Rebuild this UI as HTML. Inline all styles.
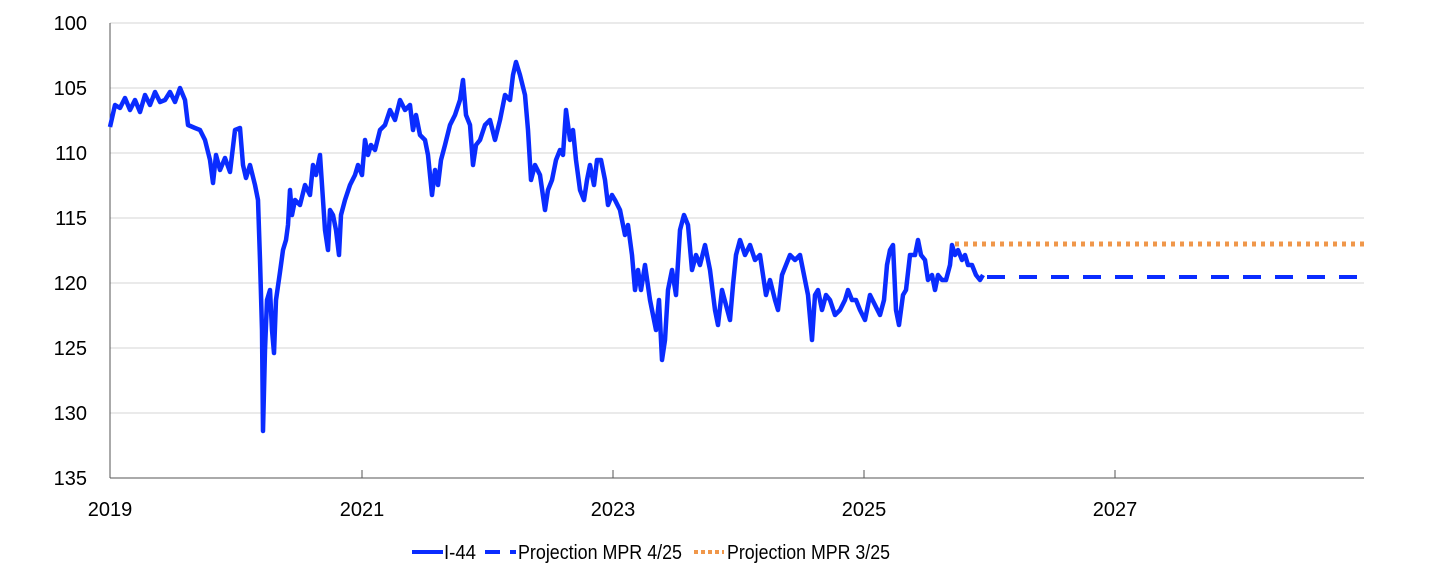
<!DOCTYPE html><html><head><style>body{margin:0;background:#fff}svg{display:block;font-family:"Liberation Sans",sans-serif}</style></head><body>
<svg width="1445" height="575" viewBox="0 0 1445 575">
<g stroke="#d4d4d4" stroke-width="1">
<line x1="110" x2="1364" y1="23" y2="23"/><line x1="110" x2="1364" y1="88" y2="88"/><line x1="110" x2="1364" y1="153" y2="153"/><line x1="110" x2="1364" y1="218" y2="218"/><line x1="110" x2="1364" y1="283" y2="283"/><line x1="110" x2="1364" y1="348" y2="348"/><line x1="110" x2="1364" y1="413" y2="413"/>
</g>
<line x1="110" x2="110" y1="23" y2="478" stroke="#555" stroke-width="1"/>
<line x1="110" x2="1364" y1="478" y2="478" stroke="#555" stroke-width="1"/>
<g stroke="#555"><line x1="362" x2="362" y1="470" y2="478"/><line x1="613" x2="613" y1="470" y2="478"/><line x1="864" x2="864" y1="470" y2="478"/><line x1="1115" x2="1115" y1="470" y2="478"/></g>
<g font-size="20" fill="#000" text-anchor="end">
<text x="87" y="30">100</text><text x="87" y="95">105</text><text x="87" y="160">110</text><text x="87" y="225">115</text><text x="87" y="290">120</text><text x="87" y="355">125</text><text x="87" y="420">130</text><text x="87" y="485">135</text>
</g>
<g font-size="20" fill="#000" text-anchor="middle">
<text x="110" y="516">2019</text><text x="362" y="516">2021</text><text x="613" y="516">2023</text><text x="864" y="516">2025</text><text x="1115" y="516">2027</text>
</g>
<line x1="955" x2="1364" y1="244" y2="244" stroke="#f0974a" stroke-width="5" stroke-dasharray="4 5"/>
<line x1="987" x2="1364" y1="277" y2="277" stroke="#0a2cff" stroke-width="4" stroke-dasharray="18 14"/>
<polyline fill="none" stroke="#0a2cff" stroke-width="4.5" stroke-linejoin="round" points="110,127 115,105 120,108 125,98 130,110 135,100 140,112 145,95 150,105 155,92 160,102 165,100 170,92 175,102 180,88 185,100 188,125 195,128 200,130 205,140 210,160 213,183 216,155 220,170 225,158 230,172 235,130 240,128 243,165 246,178 250,165 255,185 258,200 260,260 262,330 263,431 265,350 267,300 270,290 272,330 274,353 276,300 280,272 283,250 286,240 288,225 290,190 292,215 295,200 300,205 305,185 310,195 313,165 316,175 320,155 322,185 325,230 328,250 330,210 333,215 336,230 339,255 341,215 345,200 350,185 355,175 358,165 362,175 365,140 368,155 371,145 375,150 380,130 385,125 390,110 395,120 400,100 405,110 410,105 413,130 416,115 420,135 425,140 428,155 432,195 435,170 438,185 441,160 445,145 450,125 455,115 460,100 463,80 466,115 470,125 473,165 476,145 480,140 485,125 490,120 495,140 500,120 505,95 510,100 513,75 516,62 520,75 525,95 528,130 531,180 535,165 540,175 545,210 548,190 552,180 556,160 560,150 563,155 566,110 570,140 573,130 576,160 580,190 584,200 587,180 590,165 594,185 597,160 601,160 605,180 608,205 612,195 615,200 620,210 625,235 628,225 632,255 635,290 638,270 641,290 645,265 650,300 653,315 656,330 659,300 662,360 665,340 668,290 672,270 676,295 680,230 684,215 688,225 692,270 696,255 700,265 705,245 710,270 715,310 718,325 722,290 726,305 730,320 733,285 736,255 740,240 745,255 750,245 755,260 760,255 763,275 766,295 770,280 775,300 778,310 782,275 786,265 790,255 795,260 800,255 804,275 808,295 812,340 815,295 818,290 822,310 826,295 830,300 835,315 840,310 845,300 848,290 852,300 856,300 860,310 865,320 870,295 875,305 880,315 884,300 887,265 890,250 893,245 896,310 899,325 903,295 906,290 910,255 915,255 918,240 921,255 925,260 928,280 932,275 935,290 938,275 942,280 946,280 950,265 952,245 955,255 958,250 962,260 965,255 968,265 972,265 976,275 980,280 983,275"/>
<g font-size="20" fill="#000">
<line x1="412" x2="443" y1="552" y2="552" stroke="#0a2cff" stroke-width="4"/>
<text x="444" y="559" textLength="32" lengthAdjust="spacingAndGlyphs">I-44</text>
<line x1="485" x2="500" y1="552" y2="552" stroke="#0a2cff" stroke-width="4"/><line x1="510" x2="516" y1="552" y2="552" stroke="#0a2cff" stroke-width="4"/>
<text x="518" y="559" textLength="164" lengthAdjust="spacingAndGlyphs">Projection MPR 4/25</text>
<line x1="694" x2="724" y1="552" y2="552" stroke="#f0974a" stroke-width="4" stroke-dasharray="4 3"/>
<text x="727" y="559" textLength="163" lengthAdjust="spacingAndGlyphs">Projection MPR 3/25</text>
</g>
</svg></body></html>
